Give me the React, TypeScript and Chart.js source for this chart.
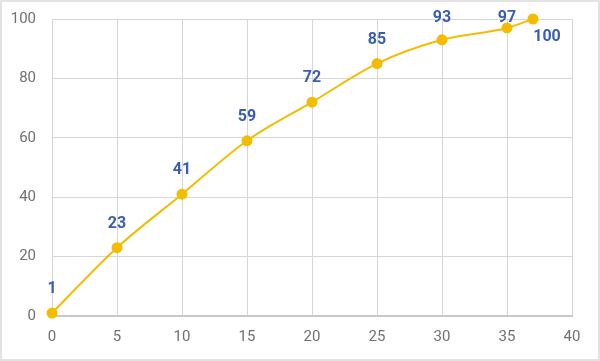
import React, { useEffect, useRef } from "react";
import { Chart, registerables } from "chart.js";

Chart.register(...registerables);

const xValues = [0, 5, 10, 15, 20, 25, 30, 35, 37];
const yValues = [1, 23, 41, 59, 72, 85, 93, 97, 100];

const labelPlugin = {
  id: "pointLabels",
  afterDatasetsDraw(chart: any) {
    const ctx = chart.ctx;
    const meta = chart.getDatasetMeta(0);
    ctx.save();
    ctx.font = "bold 16px Roboto, 'Noto Sans', sans-serif";
    ctx.fillStyle = "#3a5eaf";
    ctx.textAlign = "center";
    ctx.textBaseline = "middle";
    meta.data.forEach((pt: any, i: number) => {
      const last = i === meta.data.length - 1;
      const dx = last ? 14 : 0;
      let y = last ? pt.y + 18 : pt.y - 24;
      if (!last) y = Math.max(y, 16);
      ctx.fillText(String(yValues[i]), pt.x + dx, y);
    });
    ctx.restore();
  },
};

export default function App() {
  const ref = useRef<HTMLCanvasElement>(null);
  useEffect(() => {
    document.body.style.margin = "0";
    const tickFont = { size: 15, family: "Roboto, 'Noto Sans', sans-serif" };
    const chart = new Chart(ref.current!, {
      type: "line",
      data: {
        datasets: [
          {
            data: xValues.map((x, i) => ({ x, y: yValues[i] })),
            borderColor: "#f4bc00",
            backgroundColor: "#f4bc00",
            borderWidth: 2,
            pointRadius: 4.5,
            pointHoverRadius: 4.5,
            cubicInterpolationMode: "monotone",
            clip: false as any,
          },
        ],
      },
      options: {
        animation: false,
        responsive: false,
        layout: { autoPadding: false, padding: { top: 17, right: 26, left: 0, bottom: 0 } },
        plugins: { legend: { display: false }, tooltip: { enabled: false } },
        scales: {
          x: {
            type: "linear",
            min: 0,
            max: 40,
            afterFit: (s: any) => {
              s.height = 43;
              s.paddingLeft = 0;
              s.paddingRight = 0;
            },
            ticks: { stepSize: 5, color: "#707070", font: tickFont, padding: 12 },
            grid: { color: "#d6d6d6", lineWidth: 1, drawTicks: false },
            border: { color: "#c8c8c8", width: 2 },
          },
          y: {
            min: 0,
            max: 100,
            afterFit: (s: any) => {
              s.width = 50;
              s.paddingTop = 0;
              s.paddingBottom = 0;
            },
            ticks: { stepSize: 20, color: "#707070", font: tickFont, padding: 16 },
            grid: { color: "#d6d6d6", lineWidth: 1, drawTicks: false },
            border: { color: "#d6d6d6", width: 1 },
          },
        },
      },
      plugins: [labelPlugin],
    });
    return () => chart.destroy();
  }, []);
  return (
    <div
      style={{
        position: "absolute",
        left: 0,
        top: 0,
        width: 600,
        height: 361,
        boxSizing: "border-box",
        border: "2px solid #e2e2e2",
        background: "#fff",
      }}
    >
      <canvas ref={ref} width={596} height={357} />
    </div>
  );
}
